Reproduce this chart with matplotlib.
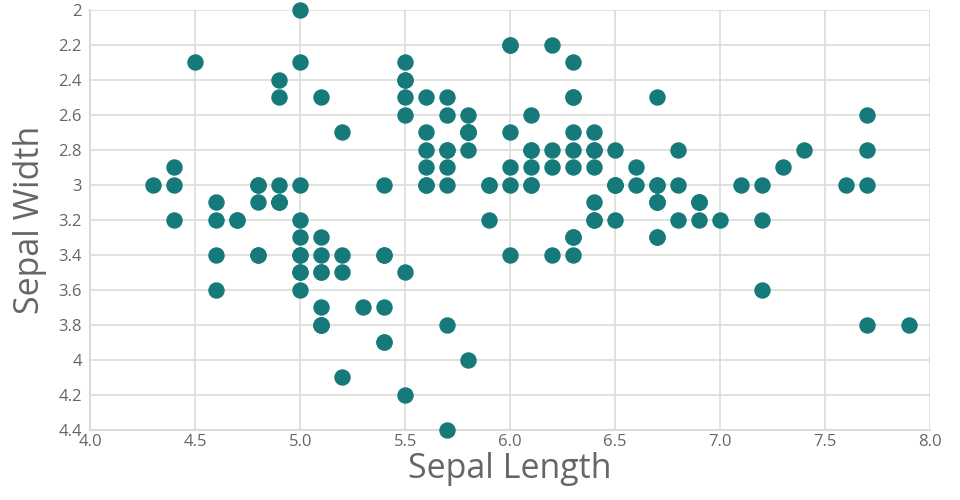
import matplotlib
matplotlib.use('Agg')
import matplotlib.pyplot as plt

# iris: sepal length / sepal width
sepal_length = [5.1, 4.9, 4.7, 4.6, 5.0, 5.4, 4.6, 5.0, 4.4, 4.9, 5.4, 4.8, 4.8, 4.3, 5.8, 5.7, 5.4, 5.1, 5.7, 5.1,
                5.4, 5.1, 4.6, 5.1, 4.8, 5.0, 5.0, 5.2, 5.2, 4.7, 4.8, 5.4, 5.2, 5.5, 4.9, 5.0, 5.5, 4.9, 4.4, 5.1,
                5.0, 4.5, 4.4, 5.0, 5.1, 4.8, 5.1, 4.6, 5.3, 5.0,
                7.0, 6.4, 6.9, 5.5, 6.5, 5.7, 6.3, 4.9, 6.6, 5.2, 5.0, 5.9, 6.0, 6.1, 5.6, 6.7, 5.6, 5.8, 6.2, 5.6,
                5.9, 6.1, 6.3, 6.1, 6.4, 6.6, 6.8, 6.7, 6.0, 5.7, 5.5, 5.5, 5.8, 6.0, 5.4, 6.0, 6.7, 6.3, 5.6, 5.5,
                5.5, 6.1, 5.8, 5.0, 5.6, 5.7, 5.7, 6.2, 5.1, 5.7,
                6.3, 5.8, 7.1, 6.3, 6.5, 7.6, 4.9, 7.3, 6.7, 7.2, 6.5, 6.4, 6.8, 5.7, 5.8, 6.4, 6.5, 7.7, 7.7, 6.0,
                6.9, 5.6, 7.7, 6.3, 6.7, 7.2, 6.2, 6.1, 6.4, 7.2, 7.4, 7.9, 6.4, 6.3, 6.1, 7.7, 6.3, 6.4, 6.0, 6.9,
                6.7, 6.9, 5.8, 6.8, 6.7, 6.7, 6.3, 6.5, 6.2, 5.9]
sepal_width = [3.5, 3.0, 3.2, 3.1, 3.6, 3.9, 3.4, 3.4, 2.9, 3.1, 3.7, 3.4, 3.0, 3.0, 4.0, 4.4, 3.9, 3.5, 3.8, 3.8,
               3.4, 3.7, 3.6, 3.3, 3.4, 3.0, 3.4, 3.5, 3.4, 3.2, 3.1, 3.4, 4.1, 4.2, 3.1, 3.2, 3.5, 3.1, 3.0, 3.4,
               3.5, 2.3, 3.2, 3.5, 3.8, 3.0, 3.8, 3.2, 3.7, 3.3,
               3.2, 3.2, 3.1, 2.3, 2.8, 2.8, 3.3, 2.4, 2.9, 2.7, 2.0, 3.0, 2.2, 2.9, 2.9, 3.1, 3.0, 2.7, 2.2, 2.5,
               3.2, 2.8, 2.5, 2.8, 2.9, 3.0, 2.8, 3.0, 2.9, 2.6, 2.4, 2.4, 2.7, 2.7, 3.0, 3.4, 3.1, 2.3, 3.0, 2.5,
               2.6, 3.0, 2.6, 2.3, 2.7, 3.0, 2.9, 2.9, 2.5, 2.8,
               3.3, 2.7, 3.0, 2.9, 3.0, 3.0, 2.5, 2.9, 2.5, 3.6, 3.2, 2.7, 3.0, 2.5, 2.8, 3.2, 3.0, 3.8, 2.6, 2.2,
               3.2, 2.8, 2.8, 2.7, 3.3, 3.2, 2.8, 3.0, 2.8, 3.0, 2.8, 3.8, 2.8, 2.8, 2.6, 3.0, 3.4, 3.1, 3.0, 3.1,
               3.1, 3.1, 2.7, 3.2, 3.3, 3.0, 2.5, 3.0, 3.4, 3.0]

x_ticks = [4.0, 4.5, 5.0, 5.5, 6.0, 6.5, 7.0, 7.5, 8.0]
y_ticks = [2, 2.2, 2.4, 2.6, 2.8, 3, 3.2, 3.4, 3.6, 3.8, 4, 4.2, 4.4]
y_labels = ['2', '2.2', '2.4', '2.6', '2.8', '3', '3.2', '3.4', '3.6', '3.8', '4', '4.2', '4.4']

plt.rcParams['font.family'] = ['Open Sans', 'DejaVu Sans']
grid_c = '#dcdbd8'
text_c = '#666666'

fig = plt.figure(figsize=(9.6, 5.0), dpi=100)
ax = fig.add_axes([0.094, 0.14, 0.875, 0.84])

ax.scatter(sepal_length, sepal_width, s=140, color='#167a7b', linewidths=0, zorder=3, clip_on=False)

ax.set_xlim(4.0, 8.0)
ax.set_ylim(4.4, 2.0)
ax.set_xticks(x_ticks)
ax.set_xticklabels([f'{v:.1f}' for v in x_ticks])
ax.set_yticks(y_ticks)
ax.set_yticklabels(y_labels)
ax.grid(True, color=grid_c, linewidth=1.2, zorder=0)
for side in ['top', 'right']:
    ax.spines[side].set_visible(False)
for side in ['left', 'bottom']:
    ax.spines[side].set_color(grid_c)
    ax.spines[side].set_linewidth(1.5)
ax.tick_params(length=0, labelsize=12, labelcolor=text_c, pad=6)
ax.tick_params(axis='x', pad=3)

ax.set_xlabel('Sepal Length', fontsize=24.5, color=text_c, labelpad=1)
ax.set_ylabel('Sepal Width', fontsize=24.5, color=text_c, labelpad=8)

fig.savefig('out.png', dpi=100)
